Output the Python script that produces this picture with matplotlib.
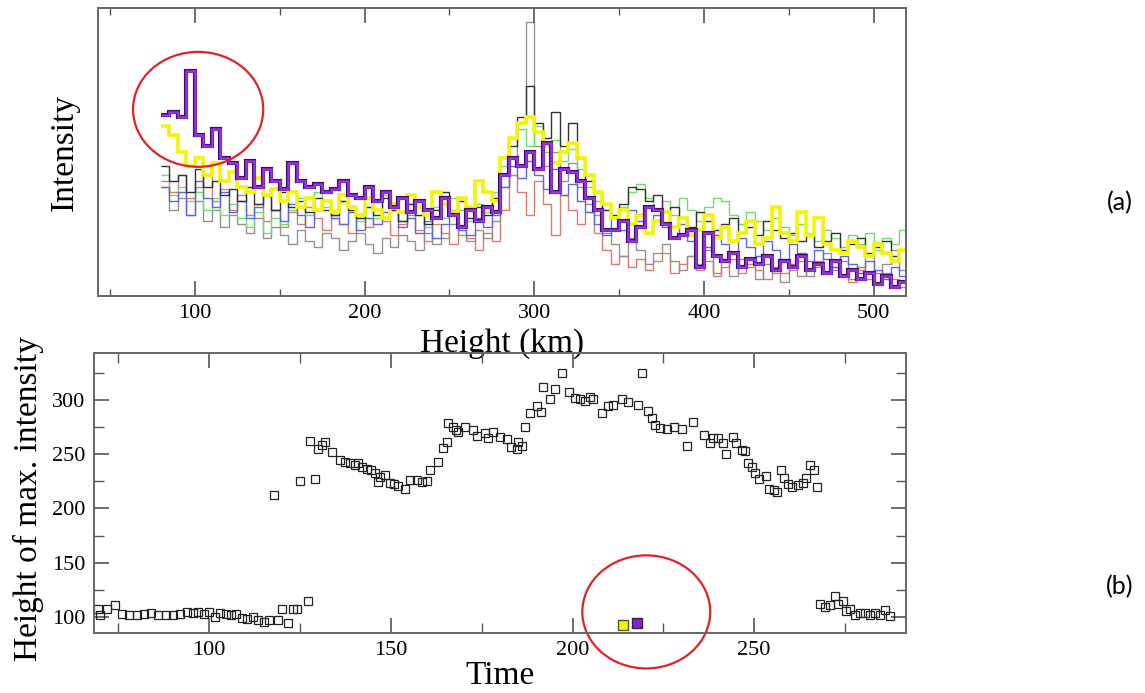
import numpy as np
import matplotlib.pyplot as plt
from matplotlib.patches import Ellipse
from matplotlib.ticker import MultipleLocator, NullLocator

# top panel: intensity profiles, 5 km bins from 80 to 520 km
edges = np.arange(80, 521, 5)

black = [45, 40, 42, 36, 44, 38, 40, 35, 37, 33, 38, 32, 35, 30, 36, 31, 33, 29, 34, 30,
         28, 33, 30, 27, 31, 28, 34, 30, 26, 32, 28, 25, 30, 36, 29, 33, 27, 31, 28, 34,
         42, 52, 62, 73, 60, 55, 64, 52, 60, 48, 40, 36, 30, 28, 32, 38, 37, 33, 35, 29,
         31, 27, 24, 29, 26, 23, 25, 27, 22, 24, 21, 26, 23, 20, 22, 19, 21, 17, 19, 22,
         16, 18, 20, 15, 17, 19, 14, 16]
gray = [38, 30, 34, 28, 33, 26, 30, 24, 28, 25, 22, 27, 20, 24, 21, 18, 23, 19, 17, 22,
        20, 16, 19, 22, 18, 15, 20, 17, 21, 19, 16, 22, 18, 20, 25, 21, 19, 23, 20, 26,
        38, 48, 60, 95, 52, 45, 50, 40, 46, 38, 32, 28, 22, 18, 14, 20, 16, 11, 15, 18,
        12, 9, 14, 11, 16, 8, 12, 7, 13, 10, 6, 11, 8, 5, 9, 12, 7, 10, 15, 9,
        12, 6, 10, 14, 8, 11, 16, 9]
red = [40, 36, 42, 34, 38, 45, 33, 37, 30, 35, 28, 32, 26, 30, 24, 29, 25, 31, 27, 23,
       28, 25, 22, 27, 24, 30, 26, 21, 25, 28, 23, 19, 25, 22, 18, 24, 20, 16, 22, 19,
       30, 42, 36, 28, 40, 32, 21, 35, 30, 25, 29, 22, 16, 11, 14, 10, 13, 9, 12, 15,
       8, 11, 14, 9, 12, 7, 10, 13, 8, 11, 9, 6, 10, 8, 11, 7, 9, 12, 8, 10,
       7, 5, 9, 6, 4, 8, 6, 3]
green = [42, 35, 38, 33, 36, 30, 34, 28, 32, 27, 24, 29, 22, 27, 25, 30, 34, 28, 36, 31,
         27, 33, 29, 26, 31, 27, 35, 30, 26, 32, 28, 24, 31, 27, 34, 30, 26, 32, 29, 36,
         45, 55, 58, 52, 59, 50, 54, 47, 51, 44, 38, 33, 30, 27, 31, 36, 39, 34, 30, 33,
         28, 34, 30, 26, 31, 34, 33, 28, 25, 29, 26, 23, 27, 24, 21, 25, 22, 19, 23, 20,
         17, 21, 18, 22, 16, 20, 18, 23]
blue = [38, 33, 36, 28, 40, 34, 31, 36, 29, 33, 27, 31, 35, 30, 26, 32, 28, 24, 30, 33,
        27, 25, 29, 23, 27, 25, 29, 31, 24, 27, 22, 26, 20, 25, 30, 23, 21, 27, 24, 28,
        38, 45, 41, 47, 42, 37, 44, 35, 39, 33, 29, 25, 21, 27, 23, 30, 26, 22, 28, 24,
        20, 25, 19, 23, 17, 21, 18, 15, 20, 17, 14, 19, 16, 13, 18, 15, 12, 16, 13, 10,
        14, 11, 8, 12, 9, 6, 10, 7]
yellow = [59, 56, 50, 45, 48, 42, 46, 40, 43, 38, 36, 41, 35, 37, 33, 36, 31, 34, 30, 33,
          29, 35, 31, 28, 34, 30, 27, 32, 29, 35, 31, 28, 36, 32, 29, 34, 31, 40, 36, 33,
          48, 55, 60, 62, 57, 52, 46, 50, 53, 48, 42, 36, 32, 27, 30, 25, 28, 22, 26, 29,
          24, 27, 21, 23, 28, 20, 24, 19, 22, 26, 18, 20, 31, 22, 19, 29, 21, 27, 18, 16,
          15, 19, 17, 14, 18, 15, 12, 16]
purple = [63, 64, 62, 78, 56, 52, 58, 48, 46, 41, 47, 38, 44, 40, 37, 46, 40, 38, 39, 36,
          37, 40, 35, 34, 38, 33, 36, 31, 34, 29, 33, 30, 27, 34, 28, 24, 30, 26, 31, 29,
          42, 48, 45, 50, 44, 53, 36, 44, 43, 40, 34, 30, 23, 23, 26, 19, 24, 31, 30, 25,
          20, 21, 23, 10, 22, 14, 12, 15, 10, 13, 11, 14, 9, 12, 10, 14, 9, 11, 8, 12,
          7, 9, 6, 8, 4, 7, 3, 5]

# bottom panel: height of max. intensity vs time
time = [69.5, 70, 71.8, 74.1, 76, 78, 80, 82, 84, 86, 88, 90, 92, 94, 95.5, 97, 98.5, 100,
        101.5, 103, 104.5, 106, 107.5, 109, 110.5, 112, 113.5, 115, 116.5, 119, 120, 121.8,
        123, 124.2, 127.3, 117.9, 125, 129.2,
        127.8, 130, 131, 131.9, 133.7, 136, 137.5, 138.8, 140, 141, 142, 143.4, 144.5, 145.7,
        146.6, 147, 148.5, 149.8, 151, 152, 154, 155.3, 157.2, 158.5, 159.9, 160.8, 163,
        164.3, 165.4, 165.8, 167.2, 168, 168.6, 170.5, 172.7, 173.6, 176, 176.8, 178.2, 180,
        181.9, 183.2, 184.6, 185, 186, 187, 188.2, 190.2, 191.3, 192, 193.8, 195.3, 197, 199,
        200.6, 202, 203.5, 204.8, 205.7, 208, 209.8, 211.2, 213.5, 215.3, 218, 219, 220.9,
        221.8, 222.8, 224.1, 226, 227.8, 230.1, 231.4, 233.1, 236.2, 237.9, 238.6, 240.1,
        241.5, 242.2, 244.3, 245.1, 246.6, 247.5, 248.2, 249.3, 250.3, 251.2, 253.3, 254.2,
        255.5, 256.4, 257.4, 258.1, 259.2, 260.3, 262.2, 263.5, 264.3, 265.4, 266.5, 267.2,
        268.2, 269.6, 270.8, 272.3, 273, 274.4, 275.3, 276.4, 277.7, 279.2, 280.5, 281.9,
        283.3, 284.5, 286, 287.3]
height = [107.4, 102, 107.4, 111, 103, 102, 102, 103, 104, 102, 102, 102, 103, 105, 104, 105,
          103, 105, 100, 104, 103, 102, 103, 99, 98, 100, 97, 96, 97, 97.5, 107.6, 95,
          107.6, 107.6, 115, 212.5, 225.4, 227,
          262.5, 255, 258, 261.6, 252, 244.7, 243, 241.6, 240, 241.6, 238.6, 236, 235, 232.5,
          224.8, 229, 230.9, 223.9, 222.5, 220.8, 217.8, 226.3, 226.3, 224, 225, 235.5, 243,
          255.5, 260.7, 278.5, 275, 272, 270.8, 275, 272, 266.8, 269, 264.7, 270.8, 265.6,
          263.8, 257, 254.6, 260.7, 257.6, 274.8, 287.7, 294.4, 289.2, 312.2, 300.6, 309.8,
          325, 307.6, 301.5, 300.6, 299, 302.4, 300.6, 287.7, 294.4, 295, 300.6, 297.5, 295,
          324.5, 290.1, 283.1, 277, 273.9, 273, 275, 273, 257.6, 280, 267.8, 260.1, 265, 265,
          260, 250.3, 265.6, 260, 254, 252.6, 242.3, 238, 232.5, 227, 230, 217.8, 217, 215,
          235.5, 228, 222.7, 220, 222, 223.4, 228, 240, 235.5, 220,
          112.2, 109.2, 111, 119.6, 112, 115, 106, 108, 102, 104, 103.5, 102, 103.5, 102,
          107, 101]
yellow_pt = (213.8, 93)
purple_pt = (217.7, 95)

plt.rcParams['font.family'] = 'Liberation Serif'

fig = plt.figure(figsize=(11.45, 6.93), dpi=100)
ax1 = fig.add_axes([0.0856, 0.5729, 0.7057, 0.4156])
ax2 = fig.add_axes([0.0821, 0.0866, 0.7092, 0.4040])
ax2.patch.set_visible(False)  # keep the top xlabel visible where it touches this frame

ax1.stairs(red, edges, baseline=None, color='#e07a6a', lw=1.0)
ax1.stairs(gray, edges, baseline=None, color='#9a8f8f', lw=1.0)
ax1.stairs(green, edges, baseline=None, color='#6adf6a', lw=1.0)
ax1.stairs(blue, edges, baseline=None, color='#5a6ae0', lw=1.0)
ax1.stairs(black, edges, baseline=None, color='#333333', lw=1.0)
ax1.stairs(yellow, edges, baseline=None, color='#f5f500', lw=2.6)
ax1.stairs(purple, edges, baseline=None, color='#3a1060', lw=3.0)
ax1.stairs(purple, edges, baseline=None, color='#9a30e8', lw=1.8)

ax1.set_xlim(43, 519)
ax1.set_ylim(0, 100)
ax1.xaxis.set_major_locator(MultipleLocator(100))
ax1.xaxis.set_minor_locator(MultipleLocator(50))
ax1.yaxis.set_major_locator(NullLocator())
ax1.tick_params(axis='x', which='both', direction='in', top=True, labelsize=16, pad=6,
                color='#555555')
ax1.tick_params(axis='x', which='major', length=11, width=1.2)
ax1.tick_params(axis='x', which='minor', length=5, width=1.0)
ax1.set_xlabel('Height (km)', fontsize=24)
ax1.xaxis.set_label_coords(0.5, -0.112)
ax1.set_ylabel('Intensity', fontsize=24)
ax1.yaxis.set_label_coords(-0.022, 0.5)

ax1.add_patch(Ellipse((102, 64.8), 76.7, 39.9, fill=False, ec='#e02424', lw=1.6, clip_on=False))

ax2.plot(time, height, 's', ms=5.8, mfc='none', mec='#222222', mew=0.9)
ax2.plot(*yellow_pt, 's', ms=7, mfc='#f5f500', mec='#555522', mew=1.0)
ax2.plot(*purple_pt, 's', ms=7, mfc='#8a20d0', mec='#332244', mew=1.0)

ax2.set_xlim(68.3, 291.8)
ax2.set_ylim(85.5, 343)
ax2.xaxis.set_major_locator(MultipleLocator(50))
ax2.xaxis.set_minor_locator(MultipleLocator(25))
ax2.yaxis.set_major_locator(MultipleLocator(50))
ax2.yaxis.set_minor_locator(MultipleLocator(25))
ax2.tick_params(which='both', direction='in', top=True, right=True, labelsize=16, pad=6,
                color='#555555')
ax2.tick_params(which='major', length=11, width=1.2)
ax2.tick_params(which='minor', length=7, width=1.0)
ax2.set_xlabel('Time', fontsize=24)
ax2.xaxis.set_label_coords(0.5, -0.098)
ax2.set_ylabel('Height of max. intensity', fontsize=24)
ax2.yaxis.set_label_coords(-0.062, 0.48)

ax2.add_patch(Ellipse((220.3, 104.9), 35.2, 104, fill=False, ec='#e02424', lw=1.6, clip_on=False))

for ax in (ax1, ax2):
    for s in ax.spines.values():
        s.set_color('#666666')
        s.set_linewidth(1.4)

fig.text(0.978, 0.708, '(a)', fontsize=18, family='Lato', ha='center', va='center')
fig.text(0.978, 0.153, '(b)', fontsize=18, family='Lato', ha='center', va='center')

fig.savefig('out.png', dpi=100)
